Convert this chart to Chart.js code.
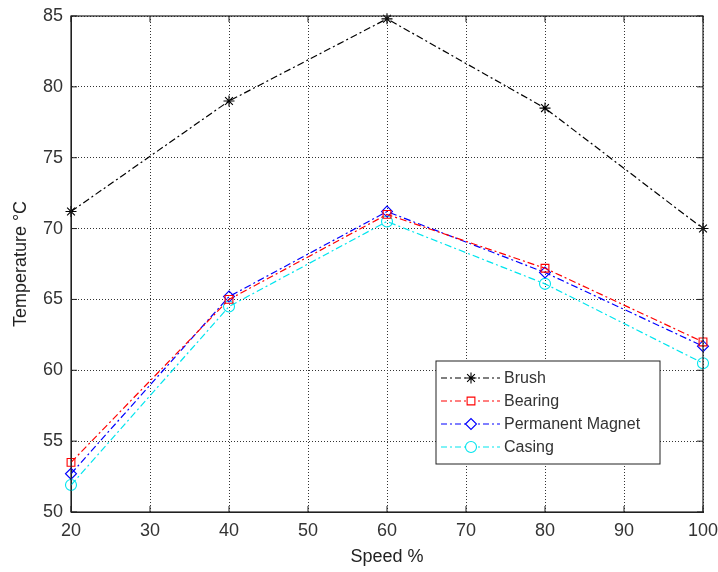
<!DOCTYPE html>
<html>
<head>
<meta charset="utf-8">
<script src="https://cdn.jsdelivr.net/npm/chart.js@4.4.0/dist/chart.umd.min.js"></script>
<style>
html,body{margin:0;padding:0;background:#fff;}
#wrap{width:718px;height:572px;position:relative;}
</style>
</head>
<body>
<div id="wrap"><canvas id="c" width="718" height="572"></canvas></div>
<script>
const speeds = [20, 40, 60, 80, 100];
const brush = [71.2, 79.0, 84.8, 78.5, 70.0];
const bearing = [53.5, 65.0, 71.0, 67.2, 62.0];
const magnet = [52.7, 65.2, 71.2, 66.9, 61.7];
const casing = [51.9, 64.5, 70.5, 66.1, 60.5];
const xTicks = [20, 30, 40, 50, 60, 70, 80, 90, 100];
const yTicks = [50, 55, 60, 65, 70, 75, 80, 85];
const seriesNames = ['Brush', 'Bearing', 'Permanent Magnet', 'Casing'];

const FONT = '"Liberation Sans", Arial, sans-serif';
const dash = [7, 3, 2, 3];

function mk(label, vals, color, style) {
  return {
    label: label,
    data: speeds.map((s, i) => ({x: s, y: vals[i]})),
    borderColor: color,
    backgroundColor: 'rgba(0,0,0,0)',
    borderWidth: 1.2,
    borderDash: dash,
    pointStyle: style,
    pointRadius: 5.5,
    pointBorderWidth: 1.1,
    pointBorderColor: color,
    pointBackgroundColor: 'rgba(0,0,0,0)',
    tension: 0,
    clip: false
  };
}

const frame = {
  id: 'frame',
  afterDraw(chart) {
    const {ctx, chartArea: a, scales} = chart;
    ctx.save();
    ctx.strokeStyle = '#222';
    ctx.lineWidth = 1.2;
    ctx.setLineDash([]);
    ctx.strokeRect(a.left, a.top, a.right - a.left, a.bottom - a.top);
    ctx.lineWidth = 1;
    xTicks.forEach(v => {
      const x = scales.x.getPixelForValue(v);
      ctx.beginPath(); ctx.moveTo(x, a.bottom); ctx.lineTo(x, a.bottom - 6); ctx.stroke();
      ctx.beginPath(); ctx.moveTo(x, a.top); ctx.lineTo(x, a.top + 6); ctx.stroke();
    });
    yTicks.forEach(v => {
      const y = scales.y.getPixelForValue(v);
      ctx.beginPath(); ctx.moveTo(a.left, y); ctx.lineTo(a.left + 6, y); ctx.stroke();
      ctx.beginPath(); ctx.moveTo(a.right, y); ctx.lineTo(a.right - 6, y); ctx.stroke();
    });
    // legend
    const lx = 436, ly = 361, lw = 224, lh = 103;
    ctx.fillStyle = '#fff';
    ctx.fillRect(lx, ly, lw, lh);
    ctx.strokeStyle = '#222';
    ctx.lineWidth = 1;
    ctx.strokeRect(lx, ly, lw, lh);
    chart.data.datasets.forEach((ds, i) => {
      const y = ly + 17 + i * 23;
      ctx.save();
      ctx.strokeStyle = ds.borderColor;
      ctx.fillStyle = 'rgba(255,255,255,1)';
      ctx.lineWidth = 1.2;
      ctx.setLineDash([6, 3, 2, 3]);
      ctx.beginPath(); ctx.moveTo(lx + 5, y); ctx.lineTo(lx + 64, y); ctx.stroke();
      ctx.setLineDash([]);
      ctx.lineWidth = 1.1;
      Chart.helpers.drawPoint(ctx, {pointStyle: ds.pointStyle, radius: 5.5, rotation: 0, borderWidth: 1.1}, lx + 35, y);
      ctx.restore();
      ctx.fillStyle = '#333';
      ctx.font = '16px ' + FONT;
      ctx.textBaseline = 'middle';
      ctx.textAlign = 'left';
      ctx.fillText(seriesNames[i], lx + 68, y + 1);
    });
    ctx.restore();
  }
};

new Chart(document.getElementById('c'), {
  type: 'line',
  data: {
    datasets: [
      mk(seriesNames[0], brush, '#000000', 'star'),
      mk(seriesNames[1], bearing, '#ff0000', 'rect'),
      mk(seriesNames[2], magnet, '#0000ff', 'rectRot'),
      mk(seriesNames[3], casing, '#00e5ee', 'circle')
    ]
  },
  plugins: [frame],
  options: {
    responsive: false,
    animation: false,
    layout: {padding: {top: 16, right: 15, left: 0, bottom: 0}},
    plugins: {legend: {display: false}, tooltip: {enabled: false}, title: {display: false}},
    scales: {
      x: {
        type: 'linear', min: 20, max: 100,
        afterBuildTicks(s) { s.ticks = xTicks.map(v => ({value: v})); },
        afterFit(s) { s.height = 60; s.paddingLeft = 0; s.paddingRight = 0; },
        grid: {color: '#333', lineWidth: 1, drawTicks: false},
        border: {display: true, color: '#222', dash: [1, 2]},
        ticks: {color: '#333', font: {family: FONT, size: 18}, padding: 8, maxRotation: 0},
        title: {display: true, text: 'Speed %', color: '#222', font: {family: FONT, size: 18}, padding: {top: 0}}
      },
      y: {
        type: 'linear', min: 50, max: 85,
        afterBuildTicks(s) { s.ticks = yTicks.map(v => ({value: v})); },
        afterFit(s) { s.width = 71; s.paddingTop = 0; s.paddingBottom = 0; },
        grid: {color: '#333', lineWidth: 1, drawTicks: false},
        border: {display: true, color: '#222', dash: [1, 2]},
        ticks: {color: '#333', font: {family: FONT, size: 18}, padding: 8},
        title: {display: true, text: 'Temperature °C', color: '#222', font: {family: FONT, size: 18}, padding: {top: 10, bottom: 0}}
      }
    }
  }
});
</script>
</body>
</html>
